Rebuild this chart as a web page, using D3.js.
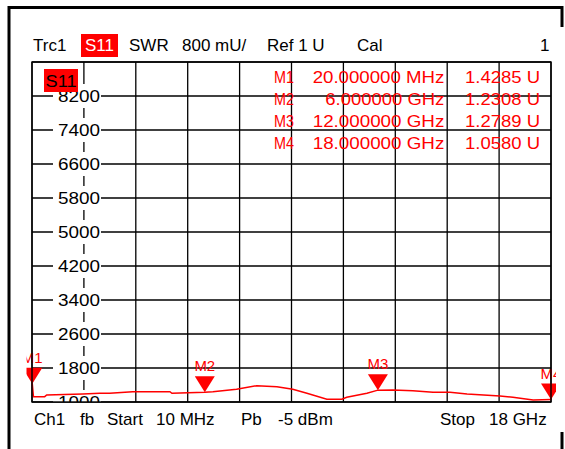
<!DOCTYPE html>
<html><head><meta charset="utf-8">
<script src="https://cdn.jsdelivr.net/npm/d3@7/dist/d3.min.js"></script>
<style>
html,body{margin:0;padding:0;background:#fff;}
svg{display:block;font-family:"Liberation Sans",Arial,sans-serif;}
</style></head>
<body>
<script>
// ---- data ----
const traceFreqGHz = [0.01,0.02,0.06,0.45,0.52,1.77,2.36,2.7,3.5,4.79,4.86,6.0,6.28,7.1,7.8,8.5,9.05,9.54,10.23,10.75,10.92,11.62,12.0,12.52,13.21,13.91,14.5,15.09,16.23,16.68,17.38,18.0];
const traceSWR_mU = [1428.5,1428.5,1125,1125,1165,1188,1205,1205,1242,1242,1205,1231,1242,1299,1383,1360,1299,1205,1064,1064,1111,1205,1279,1282,1266,1228,1228,1188,1141,1111,1047,1058];
const markerNames = ["M1","M2","M3","M4"];
const markerFreqGHz = [0.02,6,12,18];
const markerSWR_mU = [1428.5,1230.8,1278.9,1058.0];
const markerFreqLabels = ["20.000000 MHz","6.000000 GHz","12.000000 GHz","18.000000 GHz"];
const markerValueLabels = ["1.4285 U","1.2308 U","1.2789 U","1.0580 U"];
const yTickValues = [1000,1800,2600,3400,4200,5000,5800,6600,7400,8200];
const yDomain = [1000,9000];
const xDomain = [0.01,18];
const headerItems = ["Trc1","S11","SWR","800 mU/","Ref 1 U","Cal","1"];
const footerItems = ["Ch1","fb","Start","10 MHz","Pb","-5 dBm","Stop","18 GHz"];

// ---- layout ----
const W=565,H=449;
const L=32,R=551,T=62,B=402;
const svg=d3.select("body").append("svg").attr("width",W).attr("height",H);
const x=d3.scaleLinear().domain(xDomain).range([L,R]);
const y=d3.scaleLinear().domain(yDomain).range([B,T]);
const RED="#ff0000";

// outer frame
svg.append("path").attr("d",`M9,449 V7.5 H562 V27`).attr("fill","none").attr("stroke","#000").attr("stroke-width",3);
svg.append("line").attr("x1",562).attr("x2",562).attr("y1",432).attr("y2",449).attr("stroke","#000").attr("stroke-width",3);

// header
const hdrX=[33,null,129,182,267,357,540];
headerItems.forEach((t,i)=>{
  if(i===1){
    svg.append("rect").attr("x",81).attr("y",34).attr("width",37).attr("height",23).attr("fill",RED);
    svg.append("text").attr("x",99.5).attr("y",51).attr("text-anchor","middle").attr("fill","#fff").attr("font-size",17).text(t);
  } else {
    svg.append("text").attr("x",hdrX[i]).attr("y",51).attr("font-size",17).attr("fill","#000").text(t);
  }
});

// grid
const g=svg.append("g");
const nDiv=10;
const xGrid=d3.range(nDiv+1).map(i=>xDomain[0]+i*(xDomain[1]-xDomain[0])/nDiv);
g.selectAll("line.v").data(xGrid).join("line").attr("class","v")
  .attr("x1",d=>x(d)).attr("x2",d=>x(d)).attr("y1",T).attr("y2",B)
  .attr("stroke","#000").attr("stroke-width",1.3);
const yGrid=d3.range(yDomain[0],yDomain[1]+1,800);
g.selectAll("line.h").data(yGrid).join("line").attr("class","h")
  .attr("x1",L).attr("x2",R).attr("y1",d=>y(d)).attr("y2",d=>y(d))
  .attr("stroke","#000").attr("stroke-width",1.3);

// clip for plot contents
svg.append("clipPath").attr("id","plotclip").append("rect").attr("x",26.5).attr("y",0).attr("width",556-26.5).attr("height",B);
svg.append("clipPath").attr("id","labclip").append("rect").attr("x",0).attr("y",0).attr("width",W).attr("height",B);

// y labels with white boxes
const yl=svg.append("g").attr("clip-path","url(#labclip)");
yTickValues.forEach(v=>{
  yl.append("rect").attr("x",53).attr("y",y(v)-12).attr("width",48).attr("height",24).attr("fill","#fff");
  yl.append("text").attr("x",58).attr("y",y(v)+5.5).attr("font-size",16)
    .attr("textLength",42).attr("lengthAdjust","spacingAndGlyphs").attr("fill","#000").text(d3.format("d")(v));
});

// S11 tag in plot
svg.append("rect").attr("x",44).attr("y",69).attr("width",34).attr("height",23).attr("fill",RED);
svg.append("text").attr("x",45.5).attr("y",87).attr("font-size",16).attr("textLength",31).attr("lengthAdjust","spacingAndGlyphs").attr("fill","#000").text("S11");

// marker readout
markerNames.forEach((m,i)=>{
  const by=82.7+i*22.1;
  svg.append("text").attr("x",274).attr("y",by).attr("font-size",16).attr("fill",RED)
    .attr("textLength",20).attr("lengthAdjust","spacingAndGlyphs").text(m);
  const fl=markerFreqLabels[i];
  const fw= fl.length===12?119:131.6;
  svg.append("text").attr("x",444.3-fw).attr("y",by).attr("font-size",16).attr("fill",RED)
    .attr("textLength",fw).attr("lengthAdjust","spacingAndGlyphs").text(fl);
  svg.append("text").attr("x",465).attr("y",by).attr("font-size",16).attr("fill",RED)
    .attr("textLength",75).attr("lengthAdjust","spacingAndGlyphs").text(markerValueLabels[i]);
});

// trace
const pc=svg.append("g").attr("clip-path","url(#plotclip)");
const pts=traceFreqGHz.map((f,i)=>[f,traceSWR_mU[i]]);
pc.append("path").datum(pts)
  .attr("d",d3.line().x(d=>x(d[0])).y(d=>y(d[1])))
  .attr("fill","none").attr("stroke",RED).attr("stroke-width",1.5);

// markers
markerNames.forEach((m,i)=>{
  const mx=x(markerFreqGHz[i]), my=y(markerSWR_mU[i]);
  pc.append("path").attr("d",`M${mx-10},${my-16} L${mx+10},${my-16} L${mx},${my} Z`).attr("fill",RED);
  pc.append("text").attr("x",mx).attr("y",my-21).attr("text-anchor","middle").attr("font-size",15)
    .attr("fill",RED).text(m);
});

// grid border on top
svg.append("rect").attr("x",L).attr("y",T).attr("width",R-L).attr("height",B-T)
  .attr("fill","none").attr("stroke","#000").attr("stroke-width",1.4);

// footer
const ftX=[34,80,107,156,241,278,440,489];
footerItems.forEach((t,i)=>{
  svg.append("text").attr("x",ftX[i]).attr("y",425).attr("font-size",17).attr("fill","#000").text(t);
});
</script>
</body></html>
